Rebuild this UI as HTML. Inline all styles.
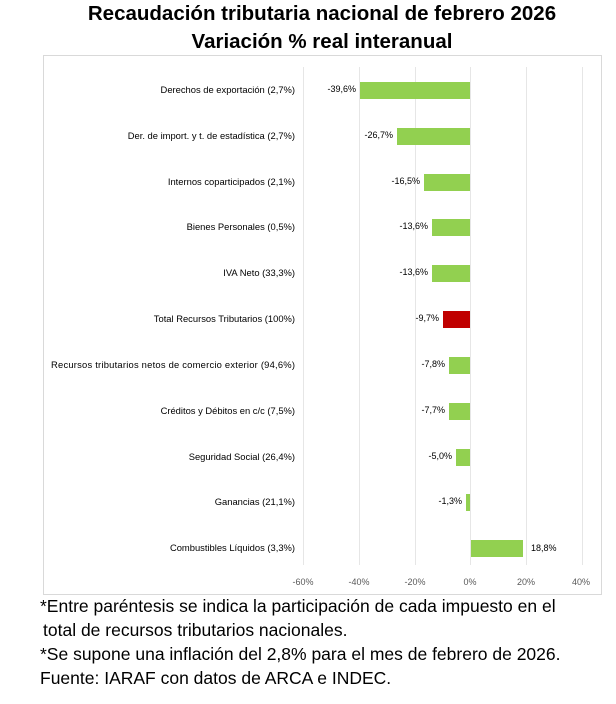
<!DOCTYPE html>
<html><head><style>
body{margin:0;width:616px;height:704px;background:#fff;overflow:hidden;font-family:"Liberation Sans",Arial,sans-serif}
.t{position:absolute;left:0;width:644px;text-align:center;font-weight:bold;font-size:20.5px;color:#000}
.n{position:absolute;left:40px;font-size:17.5px;color:#000;white-space:nowrap}
</style></head><body>
<div class="t" style="top:2px">Recaudación tributaria nacional de febrero 2026</div>
<div class="t" style="top:30px">Variación % real interanual</div>
<svg style="position:absolute;left:0;top:0" width="616" height="704" font-family="Liberation Sans, Arial, sans-serif" font-size="9">
<rect x="43.5" y="55.5" width="558" height="539" fill="none" stroke="#d9d9d9"/>
<g stroke="#e6e6e6">
<line x1="303.5" y1="67" x2="303.5" y2="565"/><line x1="359.5" y1="67" x2="359.5" y2="565"/>
<line x1="415.5" y1="67" x2="415.5" y2="565"/><line x1="470.5" y1="67" x2="470.5" y2="565"/>
<line x1="526.5" y1="67" x2="526.5" y2="565"/><line x1="582.5" y1="67" x2="582.5" y2="565"/>
</g>
<g fill="#595959" text-anchor="middle">
<text x="303" y="585">-60%</text><text x="359" y="585">-40%</text><text x="415" y="585">-20%</text>
<text x="470" y="585">0%</text><text x="526" y="585">20%</text><text x="581" y="585">40%</text>
</g>
<g fill="#000" text-anchor="end" font-size="9.4">
<text x="295" y="93">Derechos de exportación (2,7%)</text>
<text x="295" y="139">Der. de import. y t. de estadística (2,7%)</text>
<text x="295" y="185">Internos coparticipados (2,1%)</text>
<text x="295" y="230">Bienes Personales (0,5%)</text>
<text x="295" y="276">IVA Neto (33,3%)</text>
<text x="295" y="322">Total Recursos Tributarios (100%)</text>
<text x="295" y="368" textLength="244">Recursos tributarios netos de comercio exterior (94,6%)</text>
<text x="295" y="414">Créditos y Débitos en c/c (7,5%)</text>
<text x="295" y="460">Seguridad Social (26,4%)</text>
<text x="295" y="505">Ganancias (21,1%)</text>
<text x="295" y="551">Combustibles Líquidos (3,3%)</text>
</g>
<g fill="#92d050">
<rect x="360" y="82" width="110" height="17"/>
<rect x="397" y="128" width="73" height="17"/>
<rect x="424" y="174" width="46" height="17"/>
<rect x="432" y="219" width="38" height="17"/>
<rect x="432" y="265" width="38" height="17"/>
<rect x="449" y="357" width="21" height="17"/>
<rect x="449" y="403" width="21" height="17"/>
<rect x="456" y="449" width="14" height="17"/>
<rect x="466" y="494" width="4" height="17"/>
<rect x="471" y="540" width="52" height="17"/>
</g>
<rect x="443" y="311" width="27" height="17" fill="#c00000"/>
<g fill="#000" text-anchor="end">
<text x="356" y="92">-39,6%</text><text x="393" y="138">-26,7%</text><text x="420" y="184">-16,5%</text>
<text x="428" y="229">-13,6%</text><text x="428" y="275">-13,6%</text><text x="439" y="321">-9,7%</text>
<text x="445" y="367">-7,8%</text><text x="445" y="413">-7,7%</text><text x="452" y="459">-5,0%</text>
<text x="462" y="504">-1,3%</text>
</g>
<text x="531" y="551" fill="#000">18,8%</text>
</svg>
<div class="n" style="top:596px">*Entre paréntesis se indica la participación de cada impuesto en el</div>
<div class="n" style="top:620px;left:43px">total de recursos tributarios nacionales.</div>
<div class="n" style="top:644px">*Se supone una inflación del 2,8% para el mes de febrero de 2026.</div>
<div class="n" style="top:668px">Fuente: IARAF con datos de ARCA e INDEC.</div>
</body></html>
